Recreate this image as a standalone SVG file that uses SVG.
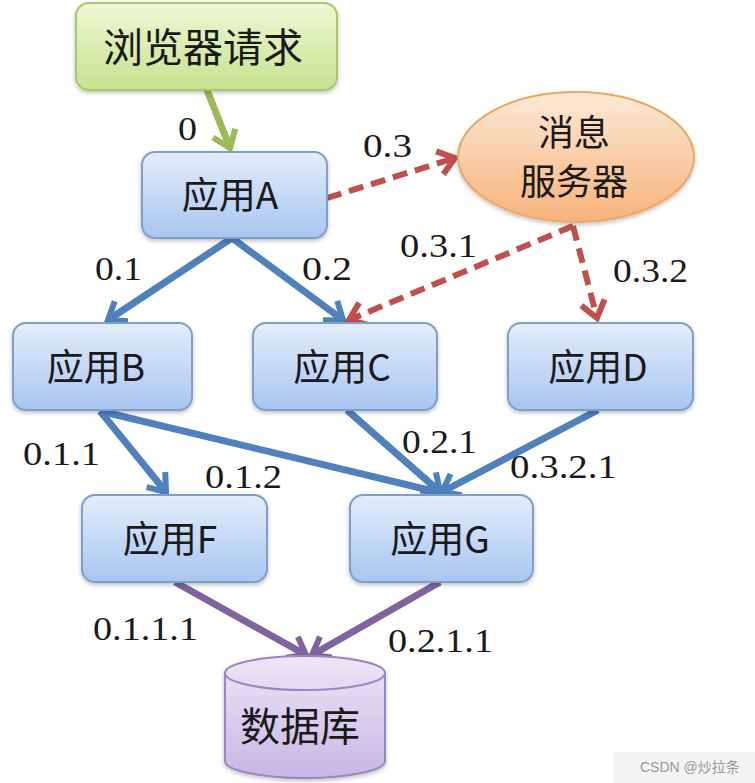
<svg xmlns="http://www.w3.org/2000/svg" width="755" height="783" viewBox="0 0 755 783">
<defs>
<linearGradient id="gBlue" x1="0" y1="0" x2="0" y2="1"><stop offset="0" stop-color="#e3edfc"/><stop offset="1" stop-color="#a8c5f0"/></linearGradient>
<linearGradient id="gGreen" x1="0" y1="0" x2="0" y2="1"><stop offset="0" stop-color="#eef8d4"/><stop offset="1" stop-color="#c6e28e"/></linearGradient>
<linearGradient id="gOrange" x1="0" y1="0" x2="0" y2="1"><stop offset="0" stop-color="#fde9d6"/><stop offset="1" stop-color="#f7b27a"/></linearGradient>
<linearGradient id="gPurple" x1="0" y1="0" x2="0" y2="1"><stop offset="0" stop-color="#ede6f7"/><stop offset="1" stop-color="#c7b6e4"/></linearGradient>
<filter id="sh" x="-10%" y="-10%" width="120%" height="130%"><feDropShadow dx="0" dy="2" stdDeviation="2" flood-color="#000" flood-opacity="0.25"/></filter>
<marker id="aBlue" markerUnits="userSpaceOnUse" viewBox="-20 -16 24 32" markerWidth="24" markerHeight="32" refX="0" refY="0" orient="auto"><path d="M-16,-12 L0,0 L-16,12" fill="none" stroke="#4f81bd" stroke-width="6"/></marker>
<marker id="aRed" markerUnits="userSpaceOnUse" viewBox="-20 -16 24 32" markerWidth="24" markerHeight="32" refX="0" refY="0" orient="auto"><path d="M-16,-12 L0,0 L-16,12" fill="none" stroke="#c0504d" stroke-width="6"/></marker>
<marker id="aPurple" markerUnits="userSpaceOnUse" viewBox="-20 -16 24 32" markerWidth="24" markerHeight="32" refX="0" refY="0" orient="auto"><path d="M-16,-12 L0,0 L-16,12" fill="none" stroke="#8064a2" stroke-width="6"/></marker>
<marker id="aGreen" markerUnits="userSpaceOnUse" viewBox="-20 -16 24 32" markerWidth="24" markerHeight="32" refX="0" refY="0" orient="auto"><path d="M-16,-12 L0,0 L-16,12" fill="none" stroke="#9bbb59" stroke-width="6"/></marker>
</defs>
<style>
.app{fill:url(#gBlue);stroke:#7f9fcb;stroke-width:2;filter:url(#sh)}
.cn{font-family:"Noto Sans CJK SC","Liberation Sans",sans-serif;fill:#1a1a1a;text-anchor:middle}
.lbl{font-family:"Liberation Serif",serif;font-size:33px;fill:#1a1a1a}
.blue{stroke:#4f81bd;stroke-width:7;fill:none;marker-end:url(#aBlue)}
.red{stroke:#c0504d;stroke-width:6;fill:none;stroke-dasharray:15 8;marker-end:url(#aRed)}
.purple{stroke:#8064a2;stroke-width:7;fill:none;marker-end:url(#aPurple)}
.green{stroke:#9bbb59;stroke-width:7;fill:none;marker-end:url(#aGreen)}
</style>
<rect width="755" height="783" fill="#ffffff"/>

<g id="connectors">
<line class="green" x1="207" y1="90" x2="230" y2="148"/>
<line class="blue" x1="232" y1="238" x2="108" y2="320"/>
<line class="blue" x1="232" y1="238" x2="343" y2="320"/>
<line class="red" x1="327" y1="198" x2="455" y2="158"/>
<line class="red" x1="573" y1="226" x2="349" y2="320"/>
<line class="red" x1="573" y1="226" x2="597" y2="318"/>
<line class="blue" x1="100" y1="411" x2="166" y2="492"/>
<line class="blue" x1="100" y1="411" x2="437" y2="492"/>
<line class="blue" x1="347" y1="410" x2="440" y2="492"/>
<line class="blue" x1="598" y1="410" x2="442" y2="492"/>
<line class="purple" x1="175" y1="582" x2="306" y2="655"/>
<line class="purple" x1="440" y1="582" x2="312" y2="655"/>
</g>

<g id="labels">
<text class="lbl" x="178" y="140" textLength="19" lengthAdjust="spacingAndGlyphs">0</text>
<text class="lbl" x="95" y="280" textLength="47" lengthAdjust="spacingAndGlyphs">0.1</text>
<text class="lbl" x="302" y="280" textLength="50" lengthAdjust="spacingAndGlyphs">0.2</text>
<text class="lbl" x="363" y="157" textLength="49" lengthAdjust="spacingAndGlyphs">0.3</text>
<text class="lbl" x="400" y="257" textLength="77" lengthAdjust="spacingAndGlyphs">0.3.1</text>
<text class="lbl" x="613" y="282" textLength="75" lengthAdjust="spacingAndGlyphs">0.3.2</text>
<text class="lbl" x="23" y="465" textLength="77" lengthAdjust="spacingAndGlyphs">0.1.1</text>
<text class="lbl" x="205" y="488" textLength="77" lengthAdjust="spacingAndGlyphs">0.1.2</text>
<text class="lbl" x="402" y="453" textLength="75" lengthAdjust="spacingAndGlyphs">0.2.1</text>
<text class="lbl" x="510" y="478" textLength="107" lengthAdjust="spacingAndGlyphs">0.3.2.1</text>
<text class="lbl" x="93" y="640" textLength="105" lengthAdjust="spacingAndGlyphs">0.1.1.1</text>
<text class="lbl" x="388" y="652" textLength="105" lengthAdjust="spacingAndGlyphs">0.2.1.1</text>
</g>

<g id="browser">
<rect x="76" y="3" width="261" height="87" rx="13" fill="url(#gGreen)" stroke="#a8c86c" stroke-width="2" filter="url(#sh)"/>
<text class="cn" x="203" y="62" font-size="40">浏览器请求</text>
</g>

<g id="appA">
<rect class="app" x="142" y="152" width="185" height="86" rx="13"/>
<text class="cn" x="230" y="209" font-size="37">应用A</text>
</g>

<g id="mq">
<ellipse cx="576" cy="157" rx="118" ry="65" fill="url(#gOrange)" stroke="#e9a864" stroke-width="2" filter="url(#sh)"/>
<text class="cn" x="574" y="146" font-size="36">消息</text>
<text class="cn" x="574" y="195" font-size="36">服务器</text>
</g>

<g id="appB">
<rect class="app" x="13" y="323" width="179" height="87" rx="13"/>
<text class="cn" x="96" y="381" font-size="37">应用B</text>
</g>

<g id="appC">
<rect class="app" x="253" y="323" width="184" height="87" rx="13"/>
<text class="cn" x="342" y="381" font-size="37">应用C</text>
</g>

<g id="appD">
<rect class="app" x="508" y="323" width="185" height="87" rx="13"/>
<text class="cn" x="598" y="381" font-size="37">应用D</text>
</g>

<g id="appF">
<rect class="app" x="82" y="495" width="185" height="87" rx="13"/>
<text class="cn" x="170" y="553" font-size="37">应用F</text>
</g>

<g id="appG">
<rect class="app" x="350" y="495" width="183" height="87" rx="13"/>
<text class="cn" x="440" y="553" font-size="37">应用G</text>
</g>

<g id="db">
<path d="M225,673 L225,761 A80,17 0 0 0 385,761 L385,673 A80,17 0 0 0 225,673 Z" fill="url(#gPurple)" stroke="#9a86c0" stroke-width="2" filter="url(#sh)"/>
<path d="M225,673 A80,17 0 0 0 385,673" fill="none" stroke="#9a86c0" stroke-width="2"/>
<text class="cn" x="300" y="741" font-size="40">数据库</text>
</g>

<g id="watermark">
<rect x="613" y="752" width="142" height="31" fill="#f4f4f4"/>
<text x="640" y="772" font-family="'Liberation Sans','Noto Sans CJK SC',sans-serif" font-size="14" fill="#999999">CSDN @炒拉条</text>
</g>
</svg>
